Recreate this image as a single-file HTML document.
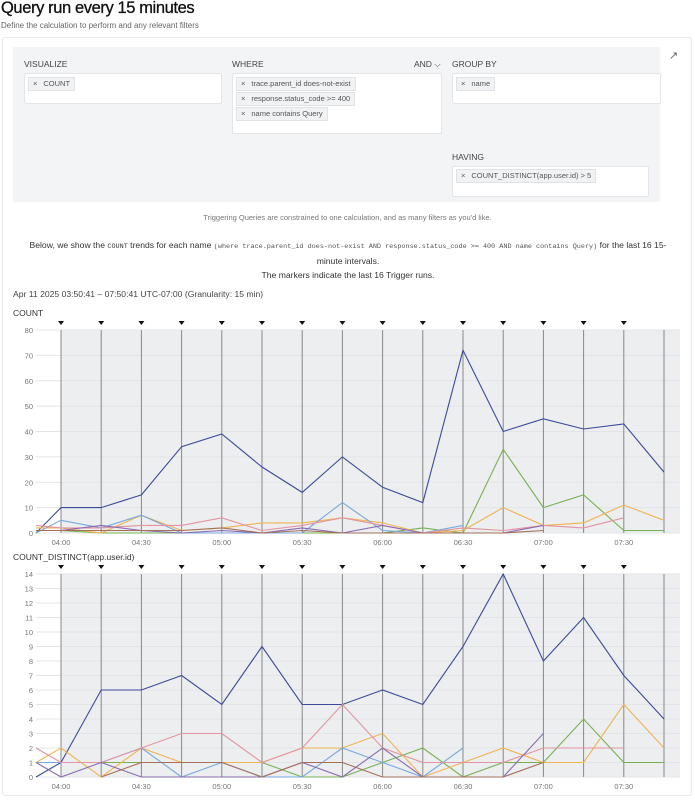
<!DOCTYPE html>
<html><head><meta charset="utf-8">
<style>
body{margin:0;width:695px;height:800px;background:#fff;font-family:"Liberation Sans",sans-serif;color:#222;position:relative;overflow:hidden}
.a{position:absolute}
.lbl{font-size:8.5px;color:#444}
.box{position:absolute;background:#fff;border:1px solid #e3e5e8;border-radius:2px}
.chip{position:absolute;background:#f1f2f4;border:1px solid #e0e2e5;font-size:7.5px;color:#555;height:12px;line-height:12px;padding:0 4px;white-space:nowrap}
.chip b{font-weight:normal;margin-right:6px}
</style></head><body>
<div class="a" style="left:1px;top:-1px;font-size:16.5px;letter-spacing:-0.4px;color:#111;-webkit-text-stroke:0.3px #111">Query run every 15 minutes</div>
<div class="a" style="left:1px;top:21px;font-size:8px;color:#666">Define the calculation to perform and any relevant filters</div>
<div class="a" style="left:2px;top:37px;width:688px;height:757px;border:1px solid #e8e9eb;border-radius:3px"></div>
<div class="a" style="left:13px;top:47px;width:647px;height:155px;background:#f3f4f6"></div>
<div class="a" style="left:669px;top:49px;font-size:11px;color:#666">↗</div>
<div class="a lbl" style="left:24px;top:59px">VISUALIZE</div>
<div class="a lbl" style="left:232px;top:59px">WHERE</div>
<div class="a lbl" style="left:414px;top:59px">AND ⌵</div>
<div class="a lbl" style="left:452px;top:59px">GROUP BY</div>
<div class="a lbl" style="left:452px;top:152px">HAVING</div>
<div class="box" style="left:24px;top:73px;width:196px;height:29px"></div>
<div class="box" style="left:232px;top:73px;width:208px;height:59px"></div>
<div class="box" style="left:452px;top:73px;width:207px;height:29px"></div>
<div class="box" style="left:452px;top:166px;width:195px;height:29px"></div>
<div class="chip" style="left:28px;top:77px"><b>×</b>COUNT</div>
<div class="chip" style="left:236px;top:77px"><b>×</b>trace.parent_id does-not-exist</div>
<div class="chip" style="left:236px;top:92px"><b>×</b>response.status_code &gt;= 400</div>
<div class="chip" style="left:236px;top:107px"><b>×</b>name contains Query</div>
<div class="chip" style="left:456px;top:77px"><b>×</b>name</div>
<div class="chip" style="left:456px;top:169px"><b>×</b>COUNT_DISTINCT(app.user.id) &gt; 5</div>
<div class="a" style="left:0;width:695px;top:213px;text-align:center;font-size:7.5px;color:#777">Triggering Queries are constrained to one calculation, and as many filters as you'd like.</div>
<div class="a" style="left:28px;width:640px;top:238px;text-align:center;font-size:8.6px;color:#333;line-height:14px">Below, we show the <span style="font-family:'Liberation Mono',monospace;font-size:6.8px">COUNT</span> trends for each name <span style="font-family:'Liberation Mono',monospace;font-size:6.8px;color:#555">(where trace.parent_id does-not-exist AND response.status_code &gt;= 400 AND name contains Query)</span> for the last 16 15-minute intervals.<br>The markers indicate the last 16 Trigger runs.</div>
<div class="a" style="left:13px;top:289px;font-size:8.6px;color:#444">Apr 11 2025 03:50:41 – 07:50:41 UTC-07:00 (Granularity: 15 min)</div>
<svg id="ch" class="a" style="left:0;top:0" width="695" height="800"></svg>
<script>
const ticksX=["04:00","04:30","05:00","05:30","06:00","06:30","07:00","07:30"];
const colors=["#3b4a9a","#78b04f","#f0b450","#78a8e0","#e394a0","#8a6bb0","#a4705a"];
const c1Navy=[0,10,10,15,34,39,26,16,30,18,12,72,40,45,41,43,24];
const c1Green=[1,1,0,0,0,0,0,0,0,0,2,0,33,10,15,1,1];
const c1Orange=[2,2,0,7,1,2,4,4,6,4,0,1,10,3,4,11,5];
const c1Blue=[0,5,2,7,0,0,0,0,12,1,0,3,null,null,null,null,null];
const c1Pink=[3,2,2,3,3,6,1,3,6,3,0,2,1,3,2,6,null];
const c1Purple=[1,1,3,1,0,1,0,2,0,3,0,0,0,3,null,null,null];
const c1Brown=[1,1,1,1,1,2,0,1,0,0,0,0,0,1,null,null,null];
const c2Navy=[0,1,6,6,7,5,9,5,5,6,5,9,14,8,11,7,4];
const c2Green=[1,1,1,1,1,1,1,0,0,1,2,0,1,1,4,1,1];
const c2Orange=[1,2,0,2,1,1,1,2,2,3,0,1,2,1,1,5,2];
const c2Blue=[1,1,1,2,0,1,0,0,2,1,0,2,null,null,null,null,null];
const c2Pink=[2,1,1,2,3,3,1,2,5,2,1,1,1,2,2,2,null];
const c2Purple=[1,0,1,0,0,0,0,1,0,2,0,0,0,3,null,null,null];
const c2Brown=[null,null,0,1,1,1,0,1,1,0,0,0,0,1,null,null,null];
const NS="http://www.w3.org/2000/svg",svg=document.getElementById('ch');
function mk(t,a,p){const e=document.createElementNS(NS,t);for(const k in a)e.setAttribute(k,a[k]);(p||svg).appendChild(e);return e;}
function xs(i){const m=i===0?-9.3167:(i-1)*15;return 61+m*40.2/15;}
function drawChart(name,top,bottom,max,step,series){
  const g=mk('g',{});
  
  
  const ys=v=>bottom-(v/max)*(bottom-top);
  const bg=mk('rect',{x:61,y:top,width:619,height:bottom-top,fill:'#eceef0'},g);
  
  
  for(let v=0;v<=max;v+=step){
    const l=mk('line',{x1:36,x2:680,y1:ys(v),y2:ys(v),stroke:'#e2e4e7','stroke-width':1},g);
    
    
    const t=mk('text',{x:33,y:ys(v)+3,'text-anchor':'end','font-size':7.5,fill:'#777','font-family':'Liberation Sans'},g);
    t.textContent=v;
    
    
  }
  for(let i=1;i<=16;i++){
    const l=mk('line',{x1:xs(i),x2:xs(i),y1:top,y2:bottom,stroke:'#888','stroke-width':1},g);
    
    
    if(i<=15){
      const m=mk('path',{d:`M${xs(i)-3},${top-9}h6l-3,4z`,fill:'#111'},g);
      
      
    }
  }
  ticksX.forEach((s,k)=>{
    const t=mk('text',{x:xs(1+2*k),y:bottom+12,'text-anchor':'middle','font-size':7.5,fill:'#777','font-family':'Liberation Sans'},g);
    t.textContent=s;
    
    
  });
  series.forEach((arr,si)=>{
    let d='',pen=false;
    arr.forEach((v,i)=>{if(v===null){pen=false;return;}d+=(pen?'L':'M')+xs(i).toFixed(1)+','+ys(v).toFixed(1);pen=true;});
    const p=mk('path',{d,fill:'none',stroke:colors[si],'stroke-width':1.1},g);
    
    
  });
}
const t1=mk('text',{x:13,y:316,'font-size':8.5,fill:'#333','font-family':'Liberation Sans'});t1.textContent='COUNT';


const t2=mk('text',{x:13,y:560,'font-size':8.5,fill:'#333','font-family':'Liberation Sans'});t2.textContent='COUNT_DISTINCT(app.user.id)';


drawChart('count-chart',330,533,80,10,[c1Navy,c1Green,c1Orange,c1Blue,c1Pink,c1Purple,c1Brown]);
drawChart('count-distinct-chart',574,777,14,1,[c2Navy,c2Green,c2Orange,c2Blue,c2Pink,c2Purple,c2Brown]);
</script>
</body></html>
